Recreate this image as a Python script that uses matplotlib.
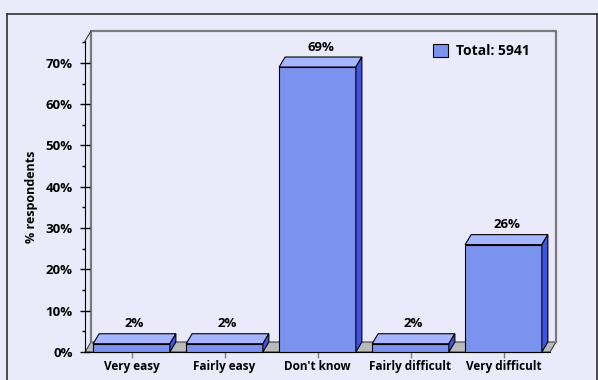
import matplotlib.pyplot as plt
from matplotlib.patches import Polygon
from matplotlib.lines import Line2D
from matplotlib.ticker import MultipleLocator, FuncFormatter

categories = ["Very easy", "Fairly easy", "Don't know", "Fairly difficult", "Very difficult"]
values = [2, 2, 69, 2, 26]
series_label = "Total: 5941"
y_ticks = [0, 10, 20, 30, 40, 50, 60, 70]

bg = "#EAEAFA"
c_front = "#7B93EE"
c_top = "#A6B5FF"
c_side = "#3F55E0"
c_floor = "#BABABA"

plt.rcParams["font.family"] = ["Open Sans", "DejaVu Sans"]
plt.rcParams["font.weight"] = "bold"

W, H = 598, 380
fig = plt.figure(figsize=(W / 100, H / 100), dpi=100, facecolor=bg)

# front plane of the plot, in pixels: x 85..550, y 41..352
ax = fig.add_axes([85 / W, (H - 352) / H, 465 / W, 311 / H])
ax.set_facecolor("none")
ymax = 75.3
ax.set_xlim(-0.5, 4.5)
ax.set_ylim(0, ymax)

# depth offset (about 6 px right, 10 px up) in data units
ddx = 6 * 5 / 465
ddy = 10 * ymax / 311
x0, x1 = -0.5, len(categories) - 0.5

# floor
ax.add_patch(Polygon([(x0, 0), (x1, 0), (x1 + ddx, ddy), (x0 + ddx, ddy)],
                     closed=True, facecolor=c_floor, edgecolor="#404040",
                     lw=0.8, clip_on=False, zorder=1))
# back walls
ax.plot([x0 + ddx, x0 + ddx, x1 + ddx, x1 + ddx],
        [ddy, ymax + ddy, ymax + ddy, ddy],
        color="#7A7A7A", lw=1.6, clip_on=False, zorder=1)
ax.plot([x0, x0 + ddx], [ymax, ymax + ddy], color="#404040", lw=0.8,
        clip_on=False, zorder=1)

# bars
xs = list(range(len(categories)))
bw = 0.825
bars = ax.bar(xs, values, width=bw, color=c_front, edgecolor="black",
              lw=0.8, zorder=3, label=series_label, clip_on=False)
for x, v in zip(xs, values):
    l, r = x - bw / 2, x + bw / 2
    ax.add_patch(Polygon([(l, v), (r, v), (r + ddx, v + ddy), (l + ddx, v + ddy)],
                         closed=True, facecolor=c_top, edgecolor="black",
                         lw=0.8, clip_on=False, zorder=3))
    ax.add_patch(Polygon([(r, 0), (r + ddx, ddy), (r + ddx, v + ddy), (r, v)],
                         closed=True, facecolor=c_side, edgecolor="black",
                         lw=0.8, clip_on=False, zorder=3))
    ax.text(x + ddx / 2, v + ddy + 0.8, f"{v}%", ha="center", va="bottom",
            fontsize=9.5, fontweight="bold", zorder=4)

# axes styling
for s in ["top", "right"]:
    ax.spines[s].set_visible(False)
ax.spines["left"].set_color("black")
ax.spines["bottom"].set_color("black")
ax.spines["left"].set_zorder(2)

ax.set_yticks(y_ticks)
ax.yaxis.set_minor_locator(MultipleLocator(5))
ax.yaxis.set_major_formatter(FuncFormatter(lambda v, p: f"{v:.0f}%"))
ax.tick_params(axis="y", which="major", direction="inout", length=7,
               width=1, pad=5.5, labelsize=9.5)
ax.tick_params(axis="y", which="minor", direction="out", length=2.3, width=1)

ax.set_xticks(xs)
ax.set_xticklabels(categories)
ax.tick_params(axis="x", direction="out", length=4.5, width=1,
               color="#808080", pad=1.5, labelsize=8.5)

ax.set_ylabel("% respondents", fontsize=9, fontweight="bold")
ax.yaxis.set_label_coords(-0.10, 0.5)

ax.legend(loc="upper left", bbox_to_anchor=(433 / W, 1 - 44 / H),
          bbox_transform=fig.transFigure, frameon=False, fontsize=10,
          handlelength=1.1, handleheight=1.1, handletextpad=0.55,
          borderpad=0, borderaxespad=0)

# outer frame
frame = dict(color="#303030", lw=1.2, transform=fig.transFigure)
fig.add_artist(Line2D([7 / W, 7 / W], [0, 1 - 14 / H], **frame))
fig.add_artist(Line2D([7 / W, 597 / W], [1 - 14 / H, 1 - 14 / H], **frame))
fig.add_artist(Line2D([597 / W, 597 / W], [0, 1 - 14 / H], **frame))

fig.savefig("out.png", dpi=100, facecolor=bg)
